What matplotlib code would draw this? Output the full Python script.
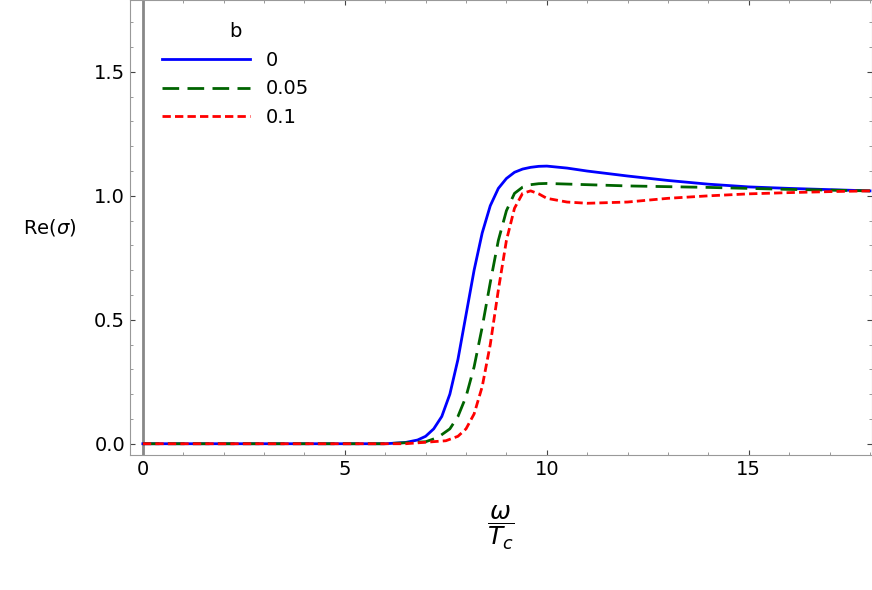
import matplotlib
matplotlib.use("Agg")
import matplotlib.pyplot as plt

# conductivity curves
w_b0 = [0, 5, 6, 6.5, 6.8, 7, 7.2, 7.4, 7.6, 7.8, 8.0, 8.2, 8.4, 8.6, 8.8, 9.0, 9.2, 9.4, 9.6, 9.8, 10, 10.5, 11, 12, 13, 14, 15, 16, 17, 18]
s_b0 = [0, 0, 0.0, 0.005, 0.015, 0.03, 0.06, 0.11, 0.2, 0.34, 0.52, 0.7, 0.85, 0.96, 1.03, 1.07, 1.095, 1.108, 1.115, 1.119, 1.12, 1.112, 1.1, 1.08, 1.062, 1.047, 1.036, 1.03, 1.025, 1.02]

w_b05 = [0, 6, 7, 7.3, 7.6, 7.8, 8.0, 8.2, 8.4, 8.6, 8.8, 9.0, 9.2, 9.4, 9.6, 9.8, 10, 11, 12, 13, 14, 15, 16, 17, 18]
s_b05 = [0, 0, 0.008, 0.025, 0.06, 0.11, 0.19, 0.31, 0.47, 0.65, 0.82, 0.94, 1.01, 1.035, 1.045, 1.049, 1.05, 1.045, 1.04, 1.037, 1.034, 1.03, 1.026, 1.023, 1.02]

w_b1 = [0, 6.5, 7.5, 7.8, 8.0, 8.2, 8.4, 8.6, 8.8, 9.0, 9.2, 9.4, 9.6, 9.8, 10.0, 10.5, 11, 12, 13, 14, 15, 16, 17, 18]
s_b1 = [0, 0, 0.012, 0.03, 0.06, 0.12, 0.23, 0.4, 0.62, 0.82, 0.95, 1.01, 1.02, 1.008, 0.99, 0.975, 0.97, 0.975, 0.99, 1.0, 1.008, 1.013, 1.017, 1.02]

labels = ["0", "0.05", "0.1"]
colors = ["#0000ff", "#006400", "#ff0000"]
styles = ["-", (0, (6, 3)), (0, (3, 1.5))]

fig = plt.figure(figsize=(8.72, 5.9), dpi=100)
ax = fig.add_axes([0.149, 0.229, 0.851, 0.771])

ax.axvline(0, color="#888888", lw=2)
for (w, s), lab, c, ls in zip([(w_b0, s_b0), (w_b05, s_b05), (w_b1, s_b1)], labels, colors, styles):
    ax.plot(w, s, color=c, ls=ls, lw=2, label=lab)

ax.set_xlim(-0.32, 18.05)
ax.set_ylim(-0.045, 1.79)
ax.set_xticks([0, 5, 10, 15])
ax.set_yticks([0.0, 0.5, 1.0, 1.5])
ax.set_yticklabels(["0.0", "0.5", "1.0", "1.5"])
ax.minorticks_on()
ax.tick_params(labelsize=14, colors="#444444", labelcolor="black", direction="in", top=True, right=True, which="both")
ax.tick_params(which="minor", colors="#888888")
for sp in ax.spines.values():
    sp.set_color("#999999")

ax.set_ylabel(r"Re($\sigma$)", fontsize=14, rotation=0, labelpad=32, va="center")
ax.set_xlabel(r"$\dfrac{\omega}{T_c}$", fontsize=18, labelpad=18)

leg = ax.legend(title="b", loc="upper left", bbox_to_anchor=(0.02, 0.99), frameon=False,
                fontsize=14, title_fontsize=14, handlelength=4.5)
leg._legend_box.align = "center"

fig.savefig("out.png", dpi=100)
